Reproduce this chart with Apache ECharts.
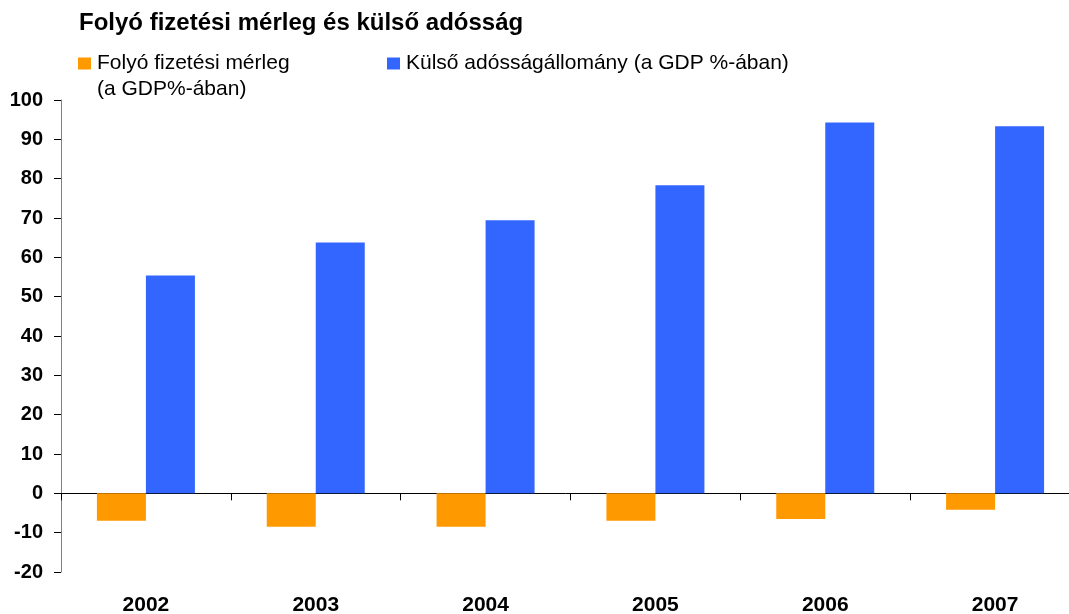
<!DOCTYPE html>
<html>
<head>
<meta charset="utf-8">
<script src="https://cdn.jsdelivr.net/npm/echarts@6/dist/echarts.min.js"></script>
<style>
html,body{margin:0;padding:0;background:#fff;}
#chart{width:1069px;height:614px;}
</style>
</head>
<body>
<div id="chart"></div>
<script>
const titleText = 'Folyó fizetési mérleg és külső adósság';
const categories = ['2002', '2003', '2004', '2005', '2006', '2007'];
const seriesNames = ['Folyó fizetési mérleg', 'Külső adósságállomány (a GDP %-ában)'];
const legendSubLine = '(a GDP%-ában)';
const currentAccount = [-7.0, -8.5, -8.5, -7.0, -6.5, -4.2];
const externalDebt = [55.4, 63.8, 69.4, 78.3, 94.3, 93.3];
const yMin = -20, yMax = 100, yStep = 10;

const FONT = "'Liberation Sans', Arial, sans-serif";
const chart = echarts.init(document.getElementById('chart'), null, {renderer: 'canvas'});
const legendBase = {top: 53, padding: 0, itemWidth: 13, itemHeight: 12, itemGap: 0, icon: 'rect',
  selectedMode: false, textStyle: {fontFamily: FONT, fontSize: 21, color: '#000', padding: [0, 0, 0, 1]}};
chart.setOption({
  animation: false,
  backgroundColor: '#fff',
  title: {
    text: titleText, left: 79, top: 11, padding: 0,
    textStyle: {fontFamily: FONT, fontSize: 24, fontWeight: 'bold', color: '#000'}
  },
  legend: [
    Object.assign({data: [seriesNames[0]], left: 78}, legendBase),
    Object.assign({data: [seriesNames[1]], left: 387}, legendBase)
  ],
  graphic: [{
    type: 'text', left: 97, top: 79,
    style: {text: legendSubLine, font: "21px 'Liberation Sans', Arial, sans-serif", fill: '#000'}
  }],
  grid: {left: 61, top: 100, width: 1019, height: 472, containLabel: false, outerBoundsMode: 'none'},
  xAxis: [{
    type: 'category', data: categories,
    axisLine: {onZero: true, lineStyle: {color: '#000', width: 1}},
    axisTick: {show: true, length: 7, alignWithLabel: false, lineStyle: {color: '#000'}},
    axisLabel: {show: false},
    splitLine: {show: false}
  }, {
    type: 'category', data: categories, position: 'bottom',
    axisLine: {show: false, onZero: false},
    axisTick: {show: false},
    axisLabel: {margin: 23, fontFamily: FONT, fontSize: 21, fontWeight: 'bold', color: '#000'},
    splitLine: {show: false}
  }],
  yAxis: {
    type: 'value', min: yMin, max: yMax, interval: yStep,
    axisLine: {show: true, lineStyle: {color: '#808080', width: 1}},
    axisTick: {show: true, length: 7, lineStyle: {color: '#000'}},
    axisLabel: {margin: 18, fontFamily: FONT, fontSize: 20, fontWeight: 'bold', color: '#000'},
    splitLine: {show: false}
  },
  series: [
    {name: seriesNames[0], type: 'bar', data: currentAccount, barWidth: 49, barGap: '0%',
     itemStyle: {color: '#FF9900'}},
    {name: seriesNames[1], type: 'bar', data: externalDebt, barWidth: 49, barGap: '0%',
     itemStyle: {color: '#3366FF'}}
  ]
});
</script>
</body>
</html>
